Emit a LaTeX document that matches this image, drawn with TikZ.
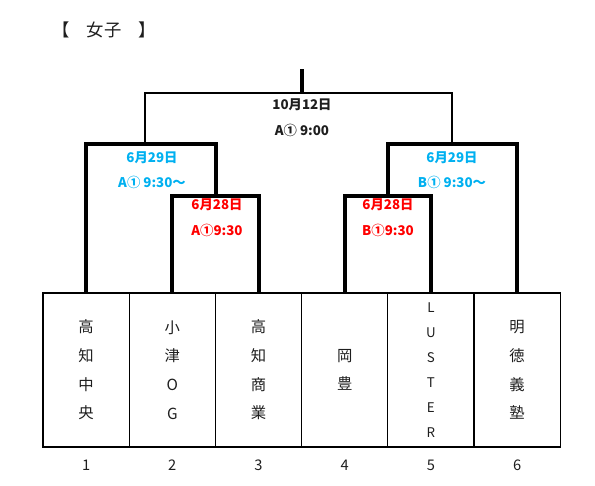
\documentclass[tikz,border=0pt]{standalone}
\usepackage{fontspec}
\setmainfont{Noto Sans CJK JP}
\usetikzlibrary{positioning}
\definecolor{dayblue}{RGB}{0,176,240}
\definecolor{dayred}{RGB}{255,0,0}
\definecolor{txtgray}{RGB}{30,30,30}

\begin{document}
\begin{tikzpicture}[
    x=0.75pt, y=-0.75pt,
    team/.style={rectangle, draw, line width=1pt, minimum width=64.65pt, minimum height=115.5pt, inner sep=0pt, align=center, text=txtgray, font=\fontsize{11.5}{21.5}\selectfont},
    latin/.style={team, font=\fontsize{10}{18.8}\selectfont},
    num/.style={text=txtgray, font=\fontsize{11}{13}\selectfont},
    date/.style={font=\bfseries\fontsize{10}{12}\selectfont},
    bracket/.style={line width=3pt},
    final/.style={line width=1.6pt}
]
    \useasboundingbox (0,0) rectangle (595,485);

    % title
    \node[text=txtgray, font=\fontsize{13}{15}\selectfont] (title) at (104,30) {【\hspace{1em}女子\hspace{1em}】};

    % teams
    \node[team] (t1) at (86.1,370) {高\\知\\中\\央};
    \node[team] (t2) at (172.3,370) {小\\津\\O\\G};
    \node[team] (t3) at (258.5,370) {高\\知\\商\\業};
    \node[team] (t4) at (344.7,370) {岡\\豊};
    \node[latin] (t5) at (430.9,370) {L\\U\\S\\T\\E\\R};
    \node[team] (t6) at (517.1,370) {明\\徳\\義\\塾};

    % draw numbers
    \node[num] (n1) at ([yshift=-13.5pt]t1.south) {1};
    \node[num] (n2) at ([yshift=-13.5pt]t2.south) {2};
    \node[num] (n3) at ([yshift=-13.5pt]t3.south) {3};
    \node[num] (n4) at ([yshift=-13.5pt]t4.south) {4};
    \node[num] (n5) at ([yshift=-13.5pt]t5.south) {5};
    \node[num] (n6) at ([yshift=-13.5pt]t6.south) {6};

    % match points
    \coordinate (m1) at (216,196);
    \coordinate (m2) at (145,144);
    \coordinate (m3) at (388,196);
    \coordinate (m4) at (452,144);
    \coordinate (fin) at (302,93);
    \coordinate (win) at (302,69);

    % brackets
    \draw[bracket] (t2.north) |- (m1) -| (t3.north);
    \draw[bracket] (t1.north) |- (m2) -| (m1);
    \draw[bracket] (t4.north) |- (m3) -| (t5.north);
    \draw[bracket] (m3) |- (m4) -| (t6.north);
    \draw[final] (m2) |- (fin) -| (m4);
    \draw[line width=2.4pt] (fin) -- (win);

    % match labels
    \node[date, text=txtgray] (f1) at (302,105) {10月12日};
    \node[date, text=txtgray] (f2) at (302,130) {A① 9:00};
    \node[date, text=dayblue] (s1) at (152,158) {6月29日};
    \node[date, text=dayblue] (s2) at (152,182) {A① 9:30〜};
    \node[date, text=dayred] (q1) at (217,205) {6月28日};
    \node[date, text=dayred] (q2) at (217,230) {A①9:30};
    \node[date, text=dayblue] (s3) at (452,158) {6月29日};
    \node[date, text=dayblue] (s4) at (452,182) {B① 9:30〜};
    \node[date, text=dayred] (q3) at (388,205) {6月28日};
    \node[date, text=dayred] (q4) at (388,230) {B①9:30};

\end{tikzpicture}
\end{document}
